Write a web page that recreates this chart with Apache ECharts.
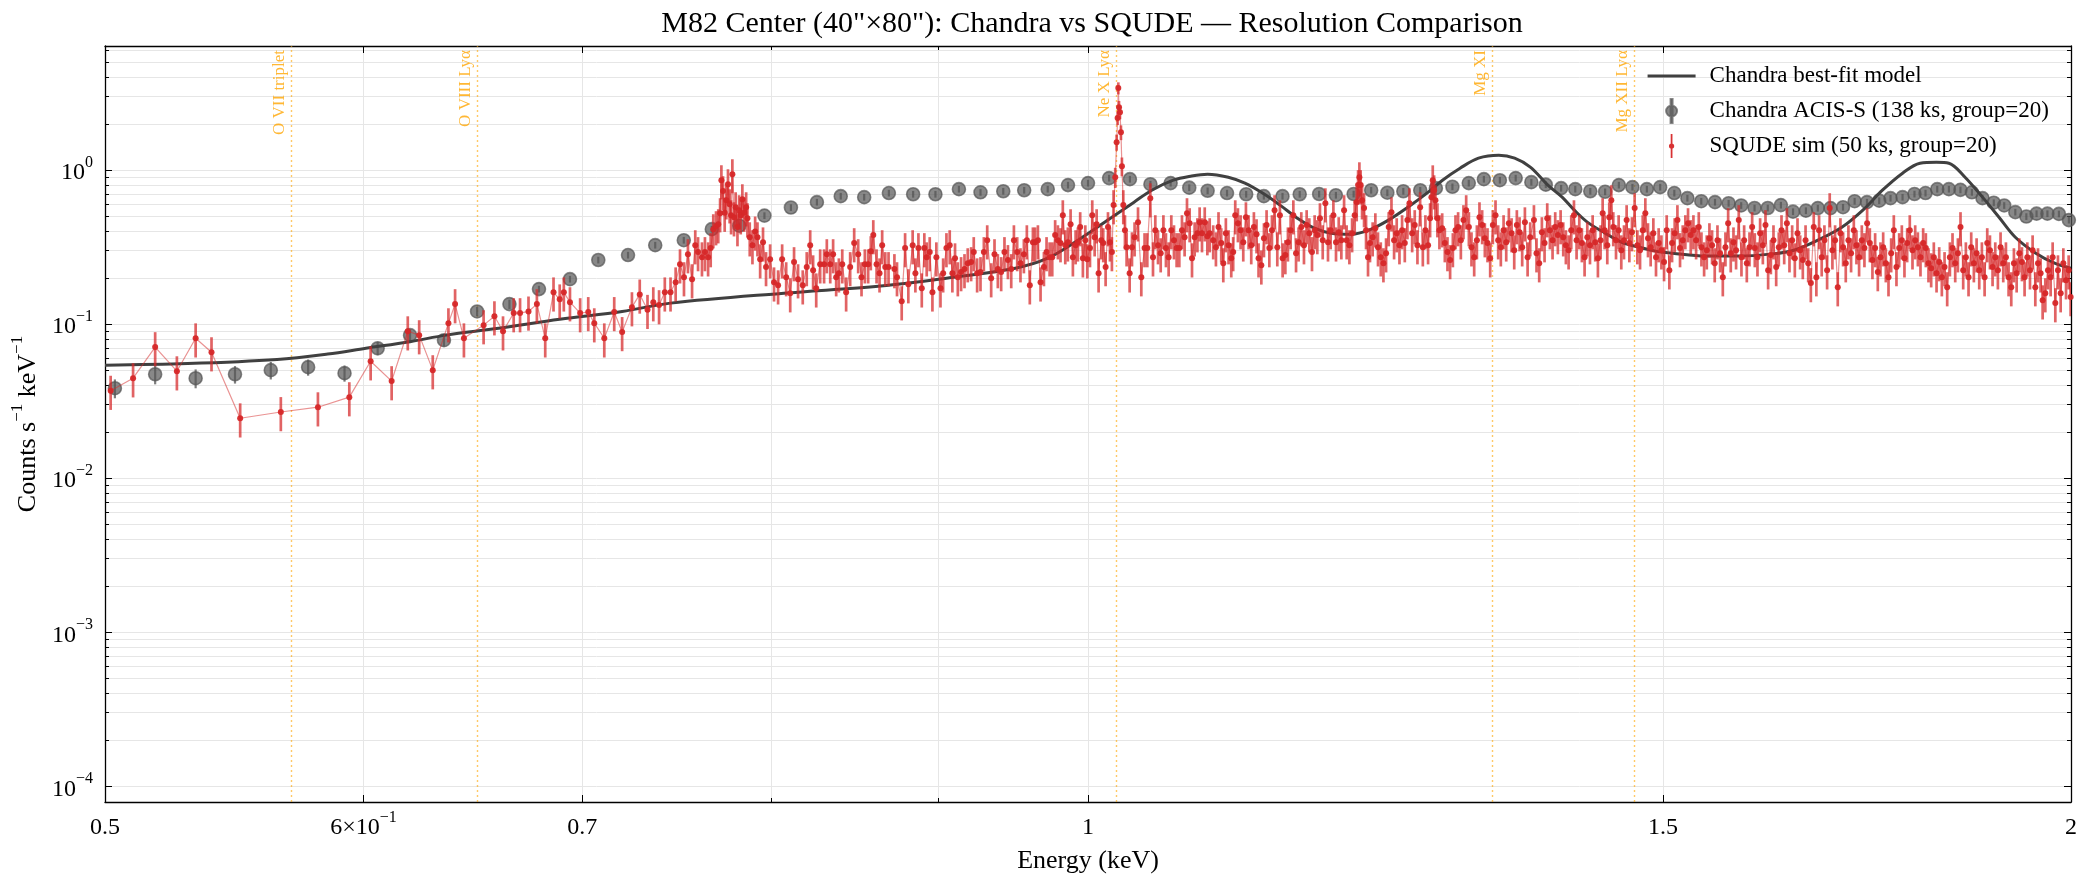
<!DOCTYPE html>
<html>
<head>
<meta charset="utf-8">
<title>M82 Center: Chandra vs SQUDE</title>
<script src="https://cdn.jsdelivr.net/npm/echarts@6/dist/echarts.min.js"></script>
<style>html,body{margin:0;padding:0;background:#fff}</style>
</head>
<body>
<div id="chart" style="width:2086px;height:884px"></div>
<script>
var FONT = '"Liberation Serif", "DejaVu Serif", serif';

// axis ticks / labels
var xLabelValues = [0.5, 0.6, 0.7, 1, 1.5, 2];
var xMajorTicks = [0.6, 0.7, 1, 1.5];
var xMinorTicks = [0.8, 0.9];
var yDecades = [1e-4, 1e-3, 1e-2, 1e-1, 1];

// spectral line markers (keV)
var lineNames = ['O VII triplet', 'O VIII Lyα', 'Ne X Lyα', 'Mg XI', 'Mg XII Lyα'];
var lineEnergies = [0.570, 0.650, 1.021, 1.331, 1.471];

// Chandra best-fit model  [keV, counts/s/keV]
var modelCurve = [
  [0.500,0.0542],[0.530,0.0555],[0.5645,0.0590],[0.585,0.0640],[0.601,0.0698],[0.620,0.0770],
  [0.636,0.0849],[0.660,0.0940],[0.689,0.1077],[0.720,0.121],[0.745,0.137],[0.807,0.159],
  [0.864,0.177],[0.905,0.199],[0.950,0.231],[0.972,0.268],[0.993,0.351],[1.017,0.495],
  [1.033,0.62],[1.046,0.741],[1.062,0.861],[1.075,0.914],[1.088,0.942],[1.104,0.90],
  [1.117,0.824],[1.131,0.71],[1.145,0.593],[1.159,0.488],[1.173,0.42],[1.187,0.39],
  [1.204,0.384],[1.219,0.408],[1.236,0.474],[1.253,0.575],[1.270,0.71],[1.284,0.861],
  [1.300,1.03],[1.317,1.196],[1.336,1.25],[1.351,1.196],[1.366,1.046],[1.383,0.80],
  [1.397,0.668],[1.409,0.55],[1.422,0.46],[1.440,0.39],[1.457,0.34],[1.475,0.316],
  [1.492,0.298],[1.510,0.289],[1.546,0.277],[1.582,0.277],[1.618,0.285],[1.645,0.302],
  [1.678,0.362],[1.702,0.427],[1.727,0.55],[1.751,0.741],[1.776,0.956],[1.798,1.11],
  [1.819,1.127],[1.835,1.11],[1.856,0.90],[1.879,0.668],[1.901,0.495],[1.923,0.367],
  [1.951,0.289],[1.977,0.249],[2.000,0.231]
];

// Chandra ACIS-S spectrum [keV, rate, (rel. error)]
var chandraErrDefault = 0.05;
var chandraPts = [
  [0.5035,0.0384,0.14],[0.518,0.0473,0.14],[0.533,0.0446,0.14],[0.548,0.0473,0.13],[0.562,0.0503,0.13],
  [0.577,0.0526,0.12],[0.592,0.0481,0.12],[0.606,0.0698,0.10],[0.620,0.0849,0.09],[0.635,0.0787,0.09],
  [0.650,0.121,0.07],[0.665,0.135,0.07],[0.679,0.169],[0.694,0.196],[0.708,0.261],[0.723,0.281],
  [0.737,0.326],[0.752,0.351],[0.767,0.414],[0.782,0.436],[0.796,0.507],[0.811,0.572],[0.826,0.62],
  [0.840,0.678],[0.854,0.668],[0.869,0.71],[0.884,0.698],[0.898,0.698],[0.913,0.753],[0.927,0.718],
  [0.942,0.73],[0.956,0.741],[0.972,0.753],[0.986,0.80],[1.000,0.824],[1.015,0.888],[1.030,0.874],
  [1.045,0.811],[1.060,0.824],[1.074,0.770],[1.088,0.735],[1.103,0.71],[1.118,0.698],[1.132,0.678],
  [1.147,0.678],[1.161,0.698],[1.177,0.70],[1.191,0.688],[1.206,0.70],[1.221,0.741],[1.235,0.714],
  [1.249,0.73],[1.264,0.741],[1.278,0.764],[1.293,0.78],[1.308,0.824],[1.322,0.874],[1.337,0.861],
  [1.352,0.888],[1.367,0.836],[1.381,0.805],[1.396,0.764],[1.410,0.753],[1.425,0.73],[1.440,0.724],
  [1.454,0.80],[1.468,0.776],[1.483,0.753],[1.497,0.776],[1.512,0.71],[1.526,0.658],[1.541,0.629],
  [1.556,0.62],[1.571,0.61],[1.585,0.59],[1.600,0.568],[1.615,0.568],[1.630,0.593],[1.644,0.538],
  [1.659,0.546],[1.673,0.567],[1.688,0.567],[1.703,0.575],[1.717,0.629],[1.732,0.62],[1.747,0.634],
  [1.761,0.658],[1.776,0.668],[1.791,0.70],[1.805,0.71],[1.820,0.753],[1.835,0.753],[1.850,0.745],
  [1.865,0.718],[1.879,0.658],[1.894,0.615],[1.908,0.59],[1.923,0.534],[1.938,0.50],[1.952,0.522],
  [1.967,0.522],[1.983,0.52],[1.997,0.474]
];

// SQUDE simulation [keV, rate, (rel. error)]
var squdeErrDefault = 0.25;
var sqLow = [
  [0.502,0.037],[0.510,0.0446],[0.518,0.071],[0.526,0.0495],[0.533,0.081],[0.539,0.0658],[0.550,0.0245],
  [0.566,0.0269],[0.581,0.0289],[0.594,0.0336],[0.603,0.0575],[0.612,0.0427],[0.619,0.090],[0.624,0.0849],
  [0.630,0.0503],[0.637,0.1015],[0.640,0.135],[0.644,0.081],[0.653,0.0986],[0.658,0.1127],[0.662,0.090],
  [0.667,0.118],[0.670,0.118],[0.674,0.121],[0.678,0.135],[0.682,0.081],[0.686,0.161],[0.689,0.145],
  [0.691,0.161],[0.694,0.139],[0.699,0.118],[0.703,0.120],[0.706,0.1015],[0.711,0.081],[0.716,0.120],
  [0.720,0.089],[0.725,0.129],[0.729,0.156],[0.733,0.124],[0.736,0.139],[0.739,0.133],[0.742,0.161],
  [0.745,0.161]
];
var sqFeL = [
  [0.7477,0.187],[0.7500,0.245],[0.7521,0.202],[0.7542,0.285],[0.7564,0.196],[0.7581,0.326],[0.7596,0.294],
  [0.7617,0.272],[0.7633,0.294],[0.7650,0.272],[0.7664,0.312],[0.7678,0.414],[0.7693,0.433],[0.7705,0.446],
  [0.7715,0.526],[0.7722,0.861],[0.7731,0.731],[0.7740,0.53],[0.7749,0.638],[0.7758,0.811],[0.7767,0.601],
  [0.7775,0.51],[0.7782,0.942],[0.7791,0.495],[0.7800,0.575],[0.7810,0.427],[0.7819,0.55],[0.7828,0.51],
  [0.7837,0.648],[0.7847,0.53],[0.7858,0.575],[0.7865,0.488],[0.7878,0.367],[0.7893,0.326],[0.7908,0.40],
  [0.7921,0.367],[0.7936,0.264],[0.7952,0.34],[0.7969,0.235],[0.7992,0.264],[0.8014,0.187],[0.8037,0.179],
  [0.8060,0.264],[0.8083,0.202],[0.8106,0.159],[0.8128,0.253],[0.8151,0.196],[0.8178,0.179],[0.8201,0.235],
  [0.8221,0.326],[0.8238,0.224],[0.8256,0.171],[0.8279,0.245],[0.8302,0.245],[0.8318,0.285],[0.8338,0.245],
  [0.8355,0.285],[0.8373,0.202],[0.8389,0.214],[0.8409,0.245],[0.8432,0.161],[0.8456,0.235],[0.8480,0.336],
  [0.8504,0.285],[0.8524,0.202],[0.8544,0.245],[0.8564,0.245],[0.8580,0.298],[0.8595,0.379],[0.8615,0.245],
  [0.8633,0.214],[0.8649,0.326],[0.8668,0.235],[0.8688,0.235]
];
var sqNe = [
  [0.8724,0.228],[0.8740,0.202],[0.8769,0.141],[0.8790,0.312],[0.8810,0.182],[0.8837,0.326],[0.8854,0.214],
  [0.8873,0.312],[0.8894,0.171],[0.8910,0.312],[0.8925,0.272],[0.8944,0.294],[0.8961,0.161],[0.8986,0.272],
  [0.9012,0.171],[0.9029,0.214],[0.9050,0.312],[0.9071,0.326],[0.9088,0.214],[0.9105,0.268],[0.9123,0.202],
  [0.9144,0.218],[0.9166,0.228],[0.9187,0.249],[0.9209,0.253],[0.9226,0.294],[0.9248,0.214],[0.9270,0.218],
  [0.9292,0.294],[0.9314,0.351],[0.9340,0.199],[0.9362,0.285],[0.9384,0.228],[0.9406,0.218],[0.9428,0.294],
  [0.9451,0.261],[0.9473,0.228],[0.9491,0.351],[0.9513,0.294],[0.9535,0.249],[0.9558,0.285],[0.9578,0.351],
  [0.9598,0.179],[0.9619,0.34],[0.9634,0.34],[0.9653,0.351],[0.9671,0.187],[0.9694,0.235],[0.9712,0.294],
  [0.9733,0.272],[0.9751,0.272],[0.9771,0.379],[0.9790,0.351],[0.9808,0.336],[0.9824,0.51],[0.9841,0.326],
  [0.9859,0.34],[0.9878,0.446],[0.9894,0.272],[0.9913,0.326],[0.9929,0.34],[0.9945,0.427],[0.9964,0.268],
  [0.9981,0.351],[0.9995,0.264],[1.0014,0.312],[1.0030,0.51],[1.0047,0.367],[1.0061,0.446],[1.0075,0.214],
  [1.0094,0.351],[1.0108,0.336],[1.0125,0.235],[1.0142,0.427],[1.0156,0.34],[1.0170,0.294],[1.0182,0.593],
  [1.0194,0.901,0.15],[1.0204,1.52,0.12],[1.0211,2.18,0.10],[1.0216,3.41,0.09],[1.0221,2.56,0.10],
  [1.0228,2.38,0.10],[1.0235,1.76,0.11],[1.0242,1.06,0.14],[1.0252,0.593],[1.0264,0.408],[1.0276,0.316],
  [1.0298,0.214],[1.0315,0.316],[1.0334,0.367],[1.0359,0.459],[1.0383,0.202],[1.0407,0.312],[1.0427,0.312],
  [1.0449,0.658],[1.0469,0.272],[1.0486,0.408],[1.0506,0.326],[1.0526,0.289],[1.0546,0.408],[1.0565,0.312],
  [1.0585,0.272],[1.0605,0.408],[1.0625,0.351],[1.0645,0.312],[1.0665,0.312],[1.0685,0.408],[1.0705,0.367],
  [1.0723,0.526],[1.0743,0.453],[1.0761,0.268],[1.0781,0.367],[1.0802,0.39],[1.0819,0.459],[1.0837,0.39],
  [1.0858,0.459],[1.0878,0.373],[1.0896,0.39]
];
var sqMid = [
  [1.0923,0.351],[1.0944,0.316],[1.0964,0.427],[1.0985,0.336],[1.1001,0.249],[1.1021,0.39],[1.1042,0.326],
  [1.1063,0.268],[1.1078,0.294],[1.1094,0.51],[1.1115,0.453],[1.1136,0.408],[1.1157,0.34],[1.1178,0.495],
  [1.1199,0.408],[1.1220,0.326],[1.1241,0.427],[1.1262,0.384],[1.1278,0.268],[1.1300,0.241],[1.1321,0.362],
  [1.1342,0.44],[1.1364,0.312],[1.1385,0.408],[1.1406,0.55],[1.1428,0.316],[1.1449,0.51],[1.1471,0.268],
  [1.1493,0.281],[1.1514,0.34],[1.1536,0.408],[1.1558,0.51],[1.1580,0.289],[1.1601,0.34],[1.1623,0.427],
  [1.1645,0.326],[1.1667,0.44],[1.1689,0.39],[1.1711,0.294],[1.1733,0.408],[1.1755,0.379],[1.1777,0.488],
  [1.1800,0.351],[1.1822,0.61],[1.1844,0.34],[1.1866,0.408],[1.1889,0.51],[1.1911,0.34],[1.1934,0.396],
  [1.1956,0.351],[1.1979,0.55],[1.2001,0.351],[1.2024,0.326],[1.2047,0.39],[1.2069,0.51],[1.2086,0.62],
  [1.2098,0.80],[1.2109,0.90],[1.2120,0.80],[1.2132,0.638],[1.2149,0.567],[1.2166,0.408],[1.2183,0.272],
  [1.2200,0.336],[1.2223,0.367],[1.2246,0.42],[1.2269,0.316],[1.2293,0.272],[1.2316,0.249],[1.2339,0.289],
  [1.2362,0.427],[1.2386,0.533],[1.2409,0.351],[1.2432,0.39],[1.2456,0.326],[1.2479,0.408],[1.2503,0.336],
  [1.2526,0.474],[1.2544,0.61],[1.2568,0.39],[1.2591,0.44],[1.2615,0.326],[1.2639,0.575],[1.2663,0.316],
  [1.2686,0.408],[1.2710,0.326],[1.2728,0.488],[1.2740,0.668],[1.2752,0.86],[1.2764,0.741],[1.2776,0.638],
  [1.2794,0.488],[1.2812,0.408],[1.2837,0.42],[1.2861,0.336],[1.2885,0.294],[1.2909,0.261],[1.2934,0.312],
  [1.2958,0.408],[1.2982,0.427],[1.3007,0.351],[1.3031,0.474],[1.3056,0.55],[1.3081,0.427],[1.3105,0.316],
  [1.3130,0.272],[1.3155,0.351],[1.3179,0.495],[1.3204,0.44],[1.3229,0.362],[1.3254,0.336],[1.3279,0.268],
  [1.3304,0.44],[1.3329,0.51],[1.3354,0.351],[1.3379,0.316],[1.3405,0.408],[1.3430,0.34],[1.3455,0.453],
  [1.3481,0.39],[1.3506,0.302],[1.3531,0.44],[1.3557,0.396],[1.3582,0.316],[1.3608,0.459],[1.3634,0.272],
  [1.3659,0.367]
];
var sqMg = [
  [1.3695,0.474],[1.3720,0.289],[1.3746,0.249],[1.3772,0.396],[1.3798,0.336],[1.3824,0.488],[1.3850,0.408],
  [1.3876,0.351],[1.3902,0.427],[1.3928,0.379],[1.3955,0.44],[1.3981,0.367],[1.4007,0.326],[1.4034,0.302],
  [1.4060,0.408],[1.4087,0.51],[1.4113,0.351],[1.4140,0.408],[1.4166,0.336],[1.4193,0.272],[1.4220,0.367],
  [1.4247,0.326],[1.4274,0.408],[1.4300,0.34],[1.4327,0.268],[1.4354,0.351],[1.4375,0.526],[1.4395,0.408],
  [1.4422,0.326],[1.4442,0.495],[1.4463,0.638],[1.4483,0.427],[1.4511,0.351],[1.4538,0.408],[1.4565,0.302],
  [1.4593,0.351],[1.4620,0.474],[1.4648,0.336],[1.4675,0.396],[1.4703,0.567],[1.4731,0.326],[1.4759,0.302],
  [1.4787,0.408],[1.4814,0.526],[1.4842,0.362],[1.4870,0.316],[1.4898,0.39],[1.4926,0.272],[1.4954,0.336],
  [1.4983,0.302],[1.5011,0.253],[1.5039,0.408],[1.5067,0.224],[1.5096,0.336],[1.5124,0.39],[1.5153,0.474],
  [1.5181,0.312],[1.5210,0.351],[1.5238,0.408],[1.5267,0.453],[1.5296,0.379],[1.5325,0.408],[1.5354,0.351],
  [1.5383,0.427],[1.5412,0.316],[1.5441,0.272],[1.5470,0.302],[1.5499,0.362],[1.5528,0.326],[1.5557,0.249],
  [1.5587,0.351],[1.5616,0.289],[1.5646,0.202],[1.5675,0.316],[1.5705,0.453],[1.5734,0.289],[1.5764,0.34],
  [1.5793,0.302],[1.5823,0.474],[1.5853,0.272],[1.5883,0.351],[1.5913,0.249],[1.5943,0.316],[1.5973,0.427],
  [1.6003,0.312],[1.6033,0.272],[1.6063,0.39],[1.6094,0.326],[1.6124,0.44],[1.6154,0.224],[1.6185,0.281],
  [1.6215,0.351],[1.6246,0.235],[1.6276,0.316],[1.6307,0.408],[1.6338,0.326],[1.6369,0.453],[1.6399,0.289],
  [1.6430,0.351],[1.6461,0.268],[1.6492,0.39],[1.6523,0.302],[1.6554,0.261],[1.6586,0.351],[1.6617,0.249],
  [1.6648,0.185]
];
var sqHigh = [
  [1.6682,0.427],[1.6713,0.202],[1.6745,0.408],[1.6776,0.272],[1.6808,0.351],[1.6840,0.224],[1.6871,0.567],
  [1.6903,0.302],[1.6935,0.351],[1.6967,0.174],[1.6999,0.39],[1.7031,0.316],[1.7063,0.249],[1.7095,0.351],
  [1.7127,0.289],[1.7160,0.408],[1.7192,0.326],[1.7224,0.272],[1.7257,0.351],[1.7289,0.312],[1.7322,0.453],
  [1.7355,0.336],[1.7387,0.261],[1.7420,0.312],[1.7453,0.218],[1.7486,0.272],[1.7519,0.316],[1.7552,0.249],
  [1.7585,0.202],[1.7618,0.289],[1.7651,0.408],[1.7684,0.235],[1.7718,0.312],[1.7751,0.351],[1.7784,0.268],
  [1.7818,0.336],[1.7851,0.408],[1.7885,0.302],[1.7919,0.351],[1.7953,0.316],[1.7986,0.272],[1.8020,0.336],
  [1.8054,0.312],[1.8088,0.249],[1.8122,0.231],[1.8156,0.272],[1.8191,0.214],[1.8225,0.253],[1.8259,0.202],
  [1.8294,0.235],[1.8328,0.174],[1.8363,0.272],[1.8397,0.312],[1.8432,0.249],[1.8467,0.289],[1.8501,0.427],
  [1.8536,0.224],[1.8571,0.272],[1.8606,0.202],[1.8641,0.316],[1.8676,0.249],[1.8712,0.289],[1.8747,0.224],
  [1.8782,0.272],[1.8818,0.202],[1.8853,0.336],[1.8889,0.302],[1.8924,0.235],[1.8960,0.272],[1.8995,0.224],
  [1.9031,0.316],[1.9067,0.249],[1.9103,0.272],[1.9139,0.202],[1.9175,0.174],[1.9211,0.249],[1.9248,0.214],
  [1.9284,0.289],[1.9320,0.253],[1.9356,0.202],[1.9393,0.272],[1.9430,0.224],[1.9466,0.302],[1.9503,0.174],
  [1.9540,0.249],[1.9576,0.214],[1.9604,0.143],[1.9641,0.159],[1.9678,0.224],[1.9715,0.202],[1.9743,0.272],
  [1.9780,0.137],[1.9817,0.224],[1.9855,0.159],[1.9892,0.249],[1.9930,0.193],[1.9967,0.224],[1.9995,0.15]
];
var squdePts = [].concat(sqLow, sqFeL, sqNe, sqMid, sqMg, sqHigh);

var MODEL = 'Chandra best-fit model';
var CH = 'Chandra ACIS-S (138 ks, group=20)';
var SQ = 'SQUDE sim (50 ks, group=20)';

function errRows(pts, def) {
  return pts.map(function (p) {
    var f = p.length > 2 ? p[2] : def;
    return [p[0], p[1] * (1 - f), p[1] * (1 + f)];
  });
}
function xy(pts) { return pts.map(function (p) { return [p[0], p[1]]; }); }

function errBar(color, width) {
  return function (params, api) {
    var a = api.coord([api.value(0), api.value(1)]);
    var b = api.coord([api.value(0), api.value(2)]);
    return { type: 'line', shape: { x1: a[0], y1: a[1], x2: b[0], y2: b[1] },
             style: { stroke: color, lineWidth: width } };
  };
}

var yMinorTicks = [];
for (var d = -4; d <= 0; d++) {
  for (var m = 2; m <= 9; m++) {
    var t = +(m * Math.pow(10, d)).toPrecision(3);
    if (t < 6.3) yMinorTicks.push(t);
  }
}

var rich = {
  b: { fontFamily: FONT, fontSize: 24, lineHeight: 30, verticalAlign: 'bottom', color: '#000' },
  s: { fontFamily: FONT, fontSize: 16, lineHeight: 14, verticalAlign: 'top', color: '#000' }
};
function fmtX(v) {
  if (Math.abs(v - 0.6) < 1e-6) return '{b|6×10}{s|−1}';
  return '{b|' + (+v.toPrecision(3)) + '}';
}
function fmtY(v) {
  var n = Math.round(Math.log10(v));
  return '{b|10}{s|' + (n < 0 ? '−' + (-n) : n) + '}';
}

var XMIN = 0.5, XMAX = 2, YMIN = 7.9e-5, YMAX = 6.4;
var spine = { show: true, onZero: false, lineStyle: { color: '#000', width: 1.3 } };
var grid = { show: true, lineStyle: { color: '#e6e6e6', width: 1 } };

function xAxisDef(pos, ticks, len, withLine, withLabel) {
  return {
    type: 'log', logBase: 10, min: XMIN, max: XMAX, position: pos, gridIndex: 0,
    axisLine: withLine ? spine : { show: false },
    axisTick: { show: true, inside: true, length: len, customValues: ticks, lineStyle: { color: '#000', width: 1 } },
    axisLabel: withLabel ? { show: true, customValues: xLabelValues, formatter: fmtX, rich: rich, margin: 8,
                             showMinLabel: true, showMaxLabel: true } : { show: false },
    splitLine: pos === 'bottom' ? grid : { show: false },
    minorTick: { show: false }, minorSplitLine: { show: false }
  };
}
function yAxisDef(pos, ticks, len, withLine, withLabel) {
  return {
    type: 'log', logBase: 10, min: YMIN, max: YMAX, position: pos, gridIndex: 0,
    axisLine: withLine ? spine : { show: false },
    axisTick: { show: true, inside: true, length: len, customValues: ticks, lineStyle: { color: '#000', width: 1 } },
    axisLabel: withLabel ? { show: true, customValues: yDecades, formatter: fmtY, rich: rich, margin: 12 } : { show: false },
    splitLine: pos === 'left' ? grid : { show: false },
    minorTick: { show: false }, minorSplitLine: { show: false }
  };
}

var xAxes = [
  xAxisDef('bottom', xMajorTicks, 7, true, true),
  xAxisDef('bottom', xMinorTicks, 4, false, false),
  xAxisDef('top', xMajorTicks, 7, true, false),
  xAxisDef('top', xMinorTicks, 4, false, false)
];
xAxes[0].name = 'Energy (keV)';
xAxes[0].nameLocation = 'middle';
xAxes[0].nameGap = 46;
xAxes[0].nameTextStyle = { fontFamily: FONT, fontSize: 26, color: '#000' };

var yAxes = [
  yAxisDef('left', yDecades, 7, true, true),
  yAxisDef('left', yMinorTicks, 4, false, false),
  yAxisDef('right', yDecades, 7, true, false),
  yAxisDef('right', yMinorTicks, 4, false, false)
];
yAxes[0].name = '{n|Counts s}{p|−1}{n| keV}{p|−1}';
yAxes[0].nameLocation = 'middle';
yAxes[0].nameGap = 62;
yAxes[0].nameTextStyle = {
  color: '#000',
  rich: {
    n: { fontFamily: FONT, fontSize: 26, lineHeight: 32, verticalAlign: 'bottom', color: '#000' },
    p: { fontFamily: FONT, fontSize: 17, lineHeight: 15, verticalAlign: 'top', color: '#000' }
  }
};

var chart = echarts.init(document.getElementById('chart'), null, { renderer: 'canvas' });
chart.setOption({
  backgroundColor: '#fff',
  animation: false,
  title: {
    text: 'M82 Center (40"×80"): Chandra vs SQUDE — Resolution Comparison',
    left: 1087, top: 4, textAlign: 'center',
    textStyle: { fontFamily: FONT, fontSize: 30, fontWeight: 'normal', color: '#000' }
  },
  grid: { left: 105, right: 15, top: 46, bottom: 82, containLabel: false },
  legend: {
    orient: 'vertical', right: 32, top: 59, itemWidth: 48, itemHeight: 24, itemGap: 10,
    textStyle: { fontFamily: FONT, fontSize: 23, color: '#000', lineHeight: 24, padding: [0, 0, 0, 9] },
    data: [
      { name: MODEL, icon: 'path://M0,0H48V3H0Z' },
      { name: CH, icon: 'path://M6,0H8V24H6Z M1.5,12A5.5,5.5 0 1 1 12.5,12A5.5,5.5 0 1 1 1.5,12Z' },
      { name: SQ, icon: 'path://M6.2,1H7.8V23H6.2Z M4.6,12A2.4,2.4 0 1 1 9.4,12A2.4,2.4 0 1 1 4.6,12Z' }
    ]
  },
  xAxis: xAxes,
  yAxis: yAxes,
  series: [
    {
      name: 'chandraErr', type: 'custom', z: 2, clip: true,
      renderItem: errBar('rgba(70,70,70,0.7)', 2.2),
      encode: { x: 0, y: [1, 2] },
      data: errRows(chandraPts, chandraErrDefault)
    },
    {
      name: CH, type: 'scatter', z: 3, symbol: 'circle', symbolSize: 13,
      itemStyle: { color: '#555555', borderColor: '#555555', borderWidth: 1.6, opacity: 0.7 },
      data: xy(chandraPts)
    },
    {
      name: MODEL, type: 'line', z: 4, smooth: 0.35, symbol: 'none',
      lineStyle: { color: '#404040', width: 3 },
      itemStyle: { color: '#404040' },
      data: modelCurve,
      markLine: {
        silent: true, z: 1, symbol: ['none', 'none'], animation: false,
        lineStyle: { color: 'rgba(255,165,0,0.6)', type: [2, 3], width: 1.4 },
        label: { show: true, position: 'insideEndTop', formatter: '{b}', distance: [4, 3],
                 fontFamily: FONT, fontSize: 17, color: 'rgba(255,165,0,0.8)' },
        data: lineEnergies.map(function (e, i) { return { name: lineNames[i], xAxis: e }; })
      }
    },
    {
      name: 'squdeLine', type: 'line', z: 5, symbol: 'none',
      lineStyle: { color: 'rgba(214,39,40,0.5)', width: 1.2 },
      data: xy(squdePts)
    },
    {
      name: 'squdeErr', type: 'custom', z: 6, clip: true,
      renderItem: errBar('rgba(214,39,40,0.72)', 2.7),
      encode: { x: 0, y: [1, 2] },
      data: errRows(squdePts, squdeErrDefault)
    },
    {
      name: SQ, type: 'scatter', z: 7, symbol: 'circle', symbolSize: 6,
      itemStyle: { color: '#d62728', opacity: 0.95 },
      data: xy(squdePts)
    }
  ]
});
</script>
</body>
</html>
